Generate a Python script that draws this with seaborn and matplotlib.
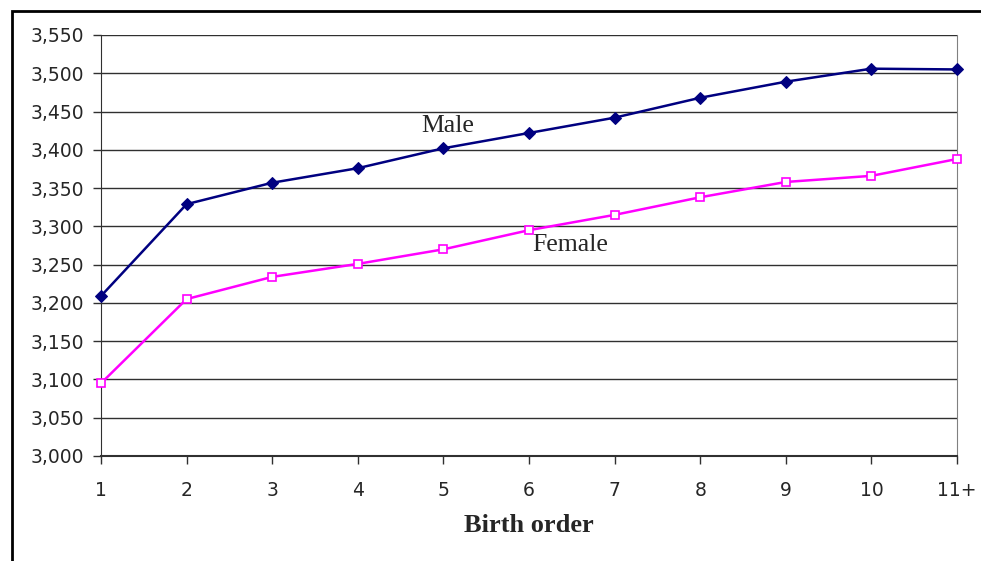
import matplotlib
matplotlib.use('Agg')
import matplotlib.pyplot as plt
import seaborn as sns
import pandas as pd
from matplotlib.patches import Rectangle
from matplotlib.ticker import FuncFormatter

# Data
birth_order = ['1', '2', '3', '4', '5', '6', '7', '8', '9', '10', '11+']
male = [3209, 3329, 3357, 3376, 3402, 3422, 3442, 3468, 3489, 3506, 3505]
female = [3095, 3205, 3234, 3251, 3270, 3295, 3315, 3338, 3358, 3366, 3388]
y_ticks = list(range(3000, 3551, 50))

df = pd.DataFrame({'pos': range(len(birth_order)), 'Male': male, 'Female': female})

sns.set_style('white')
plt.rcParams['font.family'] = ['DejaVu Sans']

fig = plt.figure(figsize=(9.81, 5.61), dpi=100)
ax = fig.add_axes([101 / 981, 1 - 456 / 561, (957 - 101) / 981, (456 - 35) / 561])

# outer chart frame (cut off at right and bottom)
fig.patches.append(Rectangle((12 / 981, -0.1), 1.2, 1 - 11 / 561 + 0.1,
                             transform=fig.transFigure, fill=False,
                             edgecolor='black', linewidth=2, zorder=0))

for y in y_ticks:
    ax.axhline(y, color='#303030', linewidth=1, zorder=1)

sns.lineplot(data=df, x='pos', y='Male', ax=ax, color='#000080', linewidth=1.8,
             marker='D', markersize=6, markerfacecolor='#000080',
             markeredgecolor='#000080', zorder=3, clip_on=False)
sns.lineplot(data=df, x='pos', y='Female', ax=ax, color='#FF00FF', linewidth=1.8,
             marker='s', markersize=6, markerfacecolor='white',
             markeredgecolor='#FF00FF', markeredgewidth=1.2, zorder=3, clip_on=False)

ax.set_xlim(0, len(birth_order) - 1)
ax.set_ylim(3000, 3550)
ax.set_xticks(range(len(birth_order)))
ax.set_xticklabels(birth_order)
ax.set_yticks(y_ticks)
ax.yaxis.set_major_formatter(FuncFormatter(lambda v, p: f'{int(v):,}'))
ax.tick_params(axis='both', direction='out', length=6, width=1, color='#303030',
               labelsize=13.5, left=True, bottom=True)
ax.tick_params(axis='x', pad=12)
ax.tick_params(axis='y', pad=6)

ax.spines['top'].set_visible(False)
ax.spines['right'].set_color('#808080')
ax.spines['left'].set_color('#303030')
ax.spines['bottom'].set_color('#303030')
ax.spines['bottom'].set_linewidth(1.5)

ax.set_xlabel('Birth order', fontsize=19, fontweight='bold',
              family='Liberation Serif', labelpad=10)
ax.set_ylabel('')

ax.text(4.05, 3431, 'Male', fontsize=18.5, family='Liberation Serif', ha='center', va='center')
ax.text(5.48, 3275, 'Female', fontsize=18.5, family='Liberation Serif', ha='center', va='center')

fig.savefig('out.png', dpi=100)
